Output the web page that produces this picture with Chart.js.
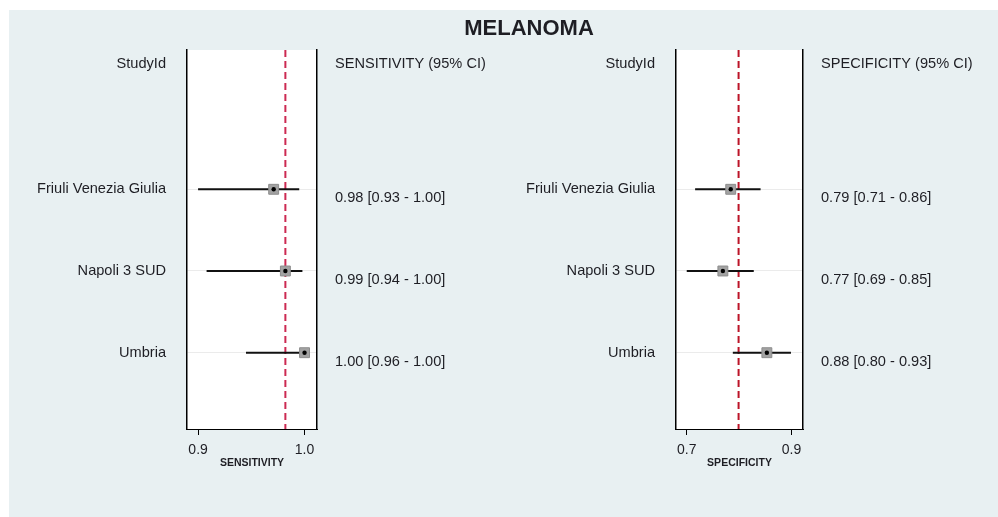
<!DOCTYPE html>
<html>
<head>
<meta charset="utf-8">
<script src="https://cdn.jsdelivr.net/npm/chart.js@4"></script>
<style>
  body { margin: 0; background: #fff; }
  #wrap { position: relative; width: 998px; height: 517px; overflow: hidden; }
  #bg { position: absolute; left: 9px; top: 10px; right: 0; bottom: 0; background: #e8f0f2; }
  canvas { position: absolute; left: 0; top: 0; }
</style>
</head>
<body>
<div id="wrap">
  <div id="bg"></div>
  <canvas id="sensChart" width="998" height="517"></canvas>
  <canvas id="specChart" width="998" height="517"></canvas>
</div>
<script>
/* ---------------- DATA ---------------- */

const studies = ["Friuli Venezia Giulia", "Napoli 3 SUD", "Umbria"];

// marks as placed on the plot
const sensEst = [0.971, 0.982, 1.000];
const sensLow = [0.900, 0.908, 0.945];
const sensHigh = [0.995, 0.998, 1.000];
const sensPooled = 0.982;
const sensTicks = [0.9, 1.0];
const sensText = ["0.98 [0.93 - 1.00]", "0.99 [0.94 - 1.00]", "1.00 [0.96 - 1.00]"];

const specEst = [0.784, 0.769, 0.853];
const specLow = [0.716, 0.700, 0.788];
const specHigh = [0.841, 0.828, 0.899];
const specPooled = 0.799;
const specTicks = [0.7, 0.9];
const specText = ["0.79 [0.71 - 0.86]", "0.77 [0.69 - 0.85]", "0.88 [0.80 - 0.93]"];

/* ---------------- HELPERS ---------------- */

const FONT = "'Liberation Sans', Arial, sans-serif";
const TEXT = "#1e1e24";
const Y_MIN = -0.705, Y_MAX = 3.934;

// white plot area + text columns
const columnText = {
    id: "columnText",
    beforeDraw(chart) {
        const { ctx, chartArea: a } = chart;
        ctx.save();
        ctx.fillStyle = "#fff";
        ctx.fillRect(a.left, a.top, a.right - a.left, a.bottom - a.top);
        ctx.restore();
    },
    afterDraw(chart) {
        const o = chart.options.plugins.columnText;
        const { ctx, chartArea: a, scales } = chart;
        ctx.save();
        ctx.fillStyle = TEXT;
        ctx.font = "14.6px " + FONT;
        ctx.textBaseline = "middle";

        ctx.textAlign = "right";
        ctx.fillText("StudyId", a.left - 21, a.top + 14);
        studies.forEach((s, i) => {
            ctx.fillText(s, a.left - 21, scales.y.getPixelForValue(i + 1));
        });

        ctx.textAlign = "left";
        ctx.fillText(o.header, a.right + 18, a.top + 14);
        o.values.forEach((t, i) => {
            ctx.fillText(t, a.right + 18, scales.y.getPixelForValue(i + 1) + 9);
        });

        if (o.title) {
            ctx.textAlign = "center";
            ctx.font = "bold 22px " + FONT;
            ctx.fillText(o.title, 529, 29);
        }
        ctx.restore();
    }
};

function makePanel(id, p) {
    const ciSets = studies.map((s, i) => ({
        data: [{ x: p.low[i], y: i + 1 }, { x: p.high[i], y: i + 1 }],
        showLine: true,
        borderColor: "#111",
        borderWidth: 2,
        pointRadius: 0
    }));

    return new Chart(document.getElementById(id), {
        type: "scatter",
        data: {
            datasets: [
                {
                    data: p.est.map((v, i) => ({ x: v, y: i + 1 })),
                    pointStyle: "circle",
                    pointRadius: 2.2,
                    backgroundColor: "#000",
                    borderWidth: 0
                },
                {
                    data: p.est.map((v, i) => ({ x: v, y: i + 1 })),
                    pointStyle: "rect",
                    pointRadius: 7,
                    backgroundColor: "#a2a2a2",
                    borderColor: "#8c8c8c",
                    borderWidth: 1
                },
                ...ciSets,
                {
                    data: [{ x: p.pooled, y: Y_MIN }, { x: p.pooled, y: Y_MAX }],
                    showLine: true,
                    borderColor: p.pooledColor,
                    borderWidth: 2,
                    borderDash: [7, 4],
                    pointRadius: 0
                }
            ]
        },
        options: {
            responsive: false,
            animation: false,
            devicePixelRatio: 1,
            events: [],
            layout: { padding: { left: p.left, right: p.right, top: 50, bottom: 0 } },
            plugins: {
                legend: { display: false },
                tooltip: { enabled: false },
                columnText: { header: p.header, values: p.values, title: p.title }
            },
            scales: {
                x: {
                    type: "linear",
                    position: "bottom",
                    min: p.min,
                    max: p.max,
                    afterBuildTicks: sc => { sc.ticks = p.ticks.map(v => ({ value: v })); },
                    afterFit: sc => { sc.height = 88; },
                    ticks: {
                        color: TEXT,
                        font: { family: FONT, size: 14 },
                        padding: 6.5,
                        callback: v => v.toFixed(1)
                    },
                    grid: { drawOnChartArea: false, drawTicks: true, tickLength: 6, color: "#000" },
                    border: { display: true, color: "#000", width: 1 },
                    title: {
                        display: true,
                        text: p.axisTitle,
                        color: TEXT,
                        font: { family: FONT, size: 10.5, weight: "bold" },
                        padding: { top: 0, bottom: 48 }
                    }
                },
                y: {
                    type: "linear",
                    position: "left",
                    reverse: true,
                    min: Y_MIN,
                    max: Y_MAX,
                    afterBuildTicks: sc => { sc.ticks = studies.map((s, i) => ({ value: i + 1 })); },
                    afterFit: sc => { sc.width = 0; },
                    ticks: { display: false },
                    grid: { color: "#ebebeb", drawTicks: false },
                    border: { display: true, color: "#000", width: 1.5 }
                },
                y2: {
                    type: "linear",
                    position: "right",
                    reverse: true,
                    min: Y_MIN,
                    max: Y_MAX,
                    display: true,
                    afterFit: sc => { sc.width = 0; },
                    ticks: { display: false },
                    grid: { display: false },
                    border: { display: true, color: "#000", width: 1.5 }
                }
            }
        },
        plugins: [columnText]
    });
}

/* ---------------- CHARTS ---------------- */

makePanel("sensChart", {
    est: sensEst, low: sensLow, high: sensHigh, pooled: sensPooled,
    pooledColor: "#cc2a52",
    ticks: sensTicks, min: 0.8896, max: 1.0117,
    left: 187, right: 681,
    header: "SENSITIVITY (95% CI)", values: sensText,
    axisTitle: "SENSITIVITY", title: "MELANOMA"
});

makePanel("specChart", {
    est: specEst, low: specLow, high: specHigh, pooled: specPooled,
    pooledColor: "#bc1428",
    ticks: specTicks, min: 0.6795, max: 0.9220,
    left: 676, right: 195,
    header: "SPECIFICITY (95% CI)", values: specText,
    axisTitle: "SPECIFICITY"
});
</script>
</body>
</html>
